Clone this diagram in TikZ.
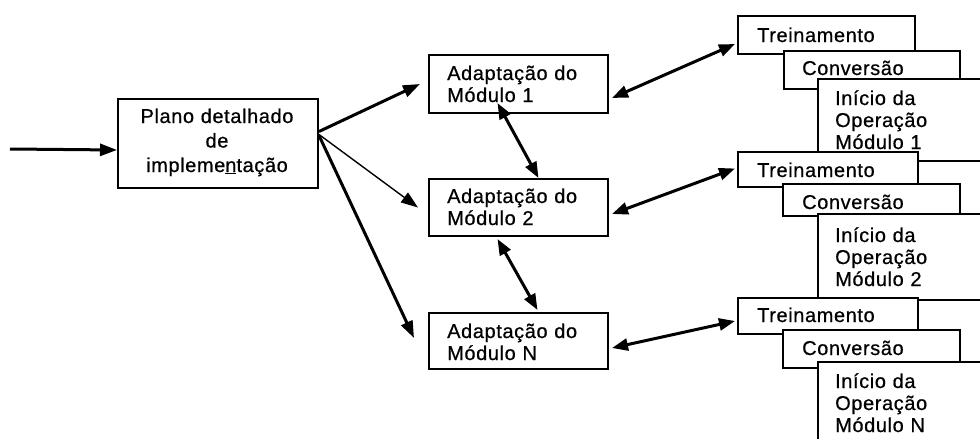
\documentclass[tikz,border=0pt]{standalone}
\usepackage{fontspec}
\setmainfont{Liberation Sans}[LetterSpace=3,FakeBold=0.6]
\usetikzlibrary{arrows.meta}
\newcommand\mybox[5]{\node[box,minimum width={#4pt-#2pt},minimum height={#5pt-#3pt}] (#1) at (#2,#3) {};}
\begin{document}
\begin{tikzpicture}[x=1pt,y=-1pt,
 box/.style={draw,line width=2pt,fill=white,inner sep=0pt,anchor=north west},
 txt/.style={anchor=base west,inner sep=0pt,align=left,text width=175pt,font=\fontsize{20}{22}\selectfont},
 tip/.style={-{Triangle[length=17pt,width=12pt]}},
 link/.style={line width=3pt,tip},
 thinlink/.style={line width=1.4pt,tip},
 dlink/.style={line width=3pt,{Triangle[length=16pt,width=12pt]}-{Triangle[length=16pt,width=12pt]}}]
\fill[white] (0,0) rectangle (980,439);
\clip (0,0) rectangle (980,439);
% main boxes
\mybox{plano}{117}{98}{317}{187}
\node[anchor=base,inner sep=0pt,align=center,text width=195pt,font=\fontsize{20}{24.5}\selectfont] (planot) at (217,123) {Plano detalhado\\de\\impleme\underline{n}tação};
\mybox{a1}{428}{54}{607}{112}
\node[txt] (a1t) at (447,80) {Adaptação do\\Módulo 1};
\mybox{a2}{428}{178}{607}{235}
\node[txt] (a2t) at (447,203) {Adaptação do\\Módulo 2};
\mybox{aN}{428}{312}{607}{368}
\node[txt] (aNt) at (447,338) {Adaptação do\\Módulo N};
% group 1
\mybox{t1}{737}{15}{914}{53}
\node[txt] (t1t) at (757,42) {Treinamento};
\mybox{c1}{783}{50}{959}{88}
\node[txt] (c1t) at (802,75) {Conversão};
\mybox{i1}{817}{78}{1000}{160}
\node[txt] (i1t) at (835,105) {Início da\\Operação\\Módulo 1};
% group 2
\mybox{t2}{737}{151}{917}{186}
\node[txt] (t2t) at (757,177) {Treinamento};
\mybox{c2}{782}{183}{959}{215}
\node[txt] (c2t) at (802,209) {Conversão};
\mybox{i2}{817}{213}{1000}{299}
\node[txt] (i2t) at (835,242) {Início da\\Operação\\Módulo 2};
% group N
\mybox{tN}{737}{297}{917}{333}
\node[txt] (tNt) at (757,322) {Treinamento};
\mybox{cN}{782}{329}{959}{367}
\node[txt] (cNt) at (802,355) {Conversão};
\mybox{iN}{817}{361}{1000}{470}
\node[txt] (iNt) at (835,388) {Início da\\Operação\\Módulo N};
% connectors
\coordinate (in) at (10,149);
\draw[link] (in) -- ([yshift=-6.5pt]plano.west);
\draw[link] ([yshift=12pt]plano.east) -- ([xshift=-8pt]a1.west);
\draw[thinlink] ([yshift=9pt]plano.east) -- ([xshift=-10pt]a2.west);
\draw[link] ([yshift=8pt]plano.east) -- ([xshift=-14pt,yshift=3pt]aN.west);
\draw[dlink] ([xshift=-21pt,yshift=11pt]a1.south) -- ([xshift=20pt]a2.north);
\draw[dlink] ([xshift=-21pt,yshift=-2pt]a2.south) -- ([xshift=19pt,yshift=2pt]aN.north);
\draw[dlink] ([xshift=3pt,yshift=-14pt]a1.east) -- ([xshift=-2pt,yshift=-9pt]t1.west);
\draw[dlink] ([xshift=3pt,yshift=-6.5pt]a2.east) -- ([xshift=-2pt,yshift=1pt]t2.west);
\draw[dlink] ([xshift=3pt,yshift=-7pt]aN.east) -- ([xshift=-2pt,yshift=-5pt]tN.west);
\end{tikzpicture}
\end{document}
